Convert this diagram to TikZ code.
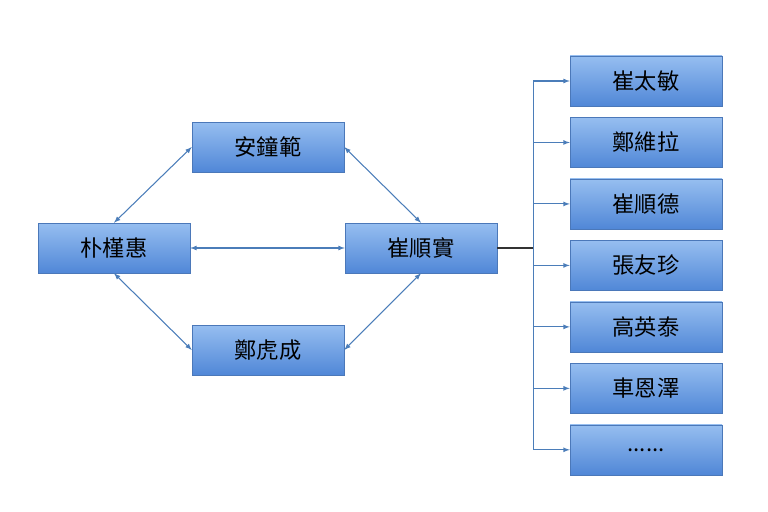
\documentclass[tikz,border=0pt]{standalone}
\usepackage{fontspec}
\newfontfamily\cjk{Noto Sans CJK TC}
\usetikzlibrary{positioning,arrows,calc}
\definecolor{boxtop}{RGB}{150,190,240}
\definecolor{boxbot}{RGB}{80,135,215}
\definecolor{boxline}{RGB}{75,120,185}
\definecolor{arrowc}{RGB}{75,125,185}

\begin{document}
\begin{tikzpicture}[auto,node distance=0.33cm, >=latex]
				\tikzset{person/.style={rectangle,draw=boxline,top color=boxtop,bottom color=boxbot,
					minimum width=4.56cm,minimum height=1.5cm,font=\cjk\fontsize{19}{22}\selectfont,text=black}}
				\tikzset{link/.style={<->,draw=arrowc,line width=0.9pt}}
				\useasboundingbox (0,0) rectangle (23.04,-15.36);
				%Left Part
				\node[person](park) at (3.42,-7.44){朴槿惠};
				\node[person](ahn) at (8.04,-4.41){安鐘範};
				\node[person](jeong) at (8.04,-10.5){鄭虎成};
				\node[person](choi) at (12.63,-7.44){崔順實};
				%Right Column
				\node[person](c1) at (19.38,-2.43){崔太敏};
				\node[person](c2)[below = of c1]{鄭維拉};
				\node[person](c3)[below = of c2]{崔順德};
				\node[person](c4)[below = of c3]{張友珍};
				\node[person](c5)[below = of c4]{高英泰};
				\node[person](c6)[below = of c5]{車恩澤};
				\node[person](c7)[below = of c6]{......};
				%Links
				\draw[link] (park.east) -- (choi.west);
				\draw[link] (park.north) -- (ahn.west);
				\draw[link] (park.south) -- (jeong.west);
				\draw[link] (ahn.east) -- (choi.north);
				\draw[link] (jeong.east) -- (choi.south);
				\coordinate (trunk) at ($(choi.east)+(1.08,0)$);
				\draw[line width=1.6pt,black!80] (choi.east) -- (trunk);
				\draw[draw=arrowc,line width=0.9pt] (trunk |- c1) -- (trunk |- c7);
				\foreach \i in {1,...,7}
					\draw[->,draw=arrowc,line width=0.9pt] (trunk |- c\i) -- (c\i.west);
\end{tikzpicture}
\end{document}
